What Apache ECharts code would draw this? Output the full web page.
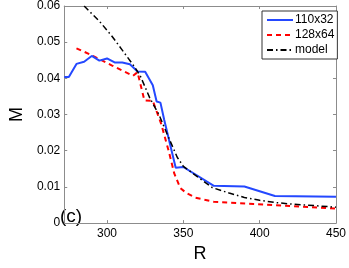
<!DOCTYPE html>
<html><head><meta charset="utf-8">
<script src="https://cdn.jsdelivr.net/npm/echarts@6/dist/echarts.min.js"></script>
<style>html,body{margin:0;padding:0;background:#fff}#c{width:349px;height:268px}</style>
</head><body><div id="c"></div>
<script>
var seriesNames = ['110x32', '128x64', 'model'];
var r110 = [272, 275, 280, 285, 290, 295, 300, 305, 310, 315, 320, 325, 330, 332.5, 335, 337.5, 345, 350, 370, 390, 410, 450];
var m110 = [0.0404, 0.0404, 0.0440, 0.0446, 0.0462, 0.0449, 0.0455, 0.0444, 0.0444, 0.0439, 0.0419, 0.0418, 0.0381, 0.0336, 0.0333, 0.0285, 0.0153, 0.0155, 0.0103, 0.0101, 0.0075, 0.0073];
var r128 = [280, 290, 303, 317, 320, 324.5, 330, 335.5, 340.5, 344, 348, 352, 358, 370, 396, 421, 450];
var m128 = [0.0483, 0.0464, 0.0436, 0.0407, 0.0417, 0.0339, 0.0338, 0.0274, 0.0198, 0.0138, 0.0097, 0.0083, 0.0070, 0.0059, 0.0053, 0.0047, 0.0040];
var rModel = [285, 295, 303, 310, 318, 322, 328, 334, 340, 346, 350, 358, 369, 380, 390, 400, 410, 420, 430, 440, 450];
var mModel = [0.0600, 0.0558, 0.0518, 0.0478, 0.0432, 0.0405, 0.0346, 0.0300, 0.0240, 0.0182, 0.0157, 0.0132, 0.0098, 0.0083, 0.0071, 0.0063, 0.0057, 0.0053, 0.0050, 0.0047, 0.0044];
var xTicks = [300, 350, 400, 450];
var yTicks = [0, 0.01, 0.02, 0.03, 0.04, 0.05, 0.06];

function zip(a, b) { return a.map(function (v, i) { return [v, b[i]]; }); }

var font = 'Liberation Sans, Arial, Helvetica, sans-serif';
var axisGray = '#8c8c8c';
var chart = echarts.init(document.getElementById('c'));
var xBase = {
  type: 'value', min: 272, max: 450,
  axisLine: { show: true, onZero: false, lineStyle: { color: axisGray, width: 1 } },
  axisTick: { show: true, inside: true, length: 3, customValues: xTicks, lineStyle: { color: axisGray } },
  splitLine: { show: false }
};
var yBase = {
  type: 'value', min: 0, max: 0.06, interval: 0.01,
  axisLine: { show: true, onZero: false, lineStyle: { color: axisGray, width: 1 } },
  axisTick: { show: true, inside: true, length: 3, lineStyle: { color: axisGray } },
  splitLine: { show: false }
};
chart.setOption({
  animation: false,
  grid: { left: 49, right: 8, top: 6, bottom: 32, containLabel: false },
  xAxis: [
    Object.assign({}, xBase, {
      position: 'bottom',
      axisLabel: { show: true, color: '#000', fontFamily: font, fontSize: 12, margin: 5,
        customValues: xTicks, formatter: function (v) { return String(v); } },
      name: 'R', nameLocation: 'middle', nameGap: 15,
      nameTextStyle: { color: '#000', fontFamily: font, fontSize: 18, verticalAlign: 'top' }
    }),
    Object.assign({}, xBase, { position: 'top', axisLabel: { show: false } })
  ],
  yAxis: [
    Object.assign({}, yBase, {
      position: 'left',
      axisLabel: { show: true, color: '#000', fontFamily: font, fontSize: 12, margin: 4,
        formatter: function (v) { var t = yTicks.find(function (k) { return Math.abs(k - v) < 1e-9; }); return t === undefined ? '' : (t === 0 ? '0' : t.toFixed(2)); } },
      name: 'M', nameLocation: 'middle', nameGap: 30, nameRotate: 90,
      nameTextStyle: { color: '#000', fontFamily: font, fontSize: 18 }
    }),
    Object.assign({}, yBase, { position: 'right', axisLabel: { show: false } })
  ],
  legend: {
    orient: 'vertical', left: 262, top: 11,
    padding: [3, 3, 3, 4], itemGap: 3, itemWidth: 26, itemHeight: 12,
    backgroundColor: '#fff', borderColor: '#333', borderWidth: 1, borderRadius: 0,
    itemStyle: { opacity: 0 },
    textStyle: { color: '#000', fontFamily: font, fontSize: 12, padding: [0, 0, 0, -3] },
    data: seriesNames
  },
  graphic: [{
    type: 'text', left: 60, top: 207,
    style: { text: '(c)', fill: '#000', font: '19px ' + font }
  }],
  series: [
    { name: seriesNames[0], type: 'line', data: zip(r110, m110), symbol: 'none', showSymbol: false,
      lineStyle: { color: '#2448ff', width: 2 }, itemStyle: { color: '#2448ff' }, z: 3 },
    { name: seriesNames[1], type: 'line', data: zip(r128, m128), symbol: 'none', showSymbol: false,
      lineStyle: { color: '#ff0000', width: 2, type: [5, 4] }, itemStyle: { color: '#ff0000' }, z: 2 },
    { name: seriesNames[2], type: 'line', data: zip(rModel, mModel), symbol: 'none', showSymbol: false,
      lineStyle: { color: '#000', width: 1.5, type: [6, 3, 1.5, 3] }, itemStyle: { color: '#000' }, z: 4 }
  ]
});
</script></body></html>
